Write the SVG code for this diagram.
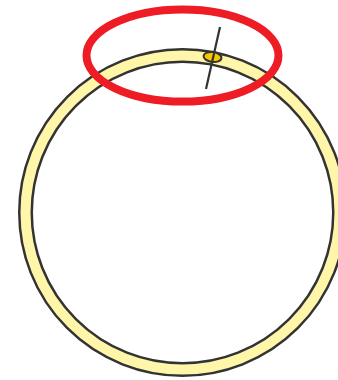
<svg xmlns="http://www.w3.org/2000/svg" width="338" height="380" viewBox="0 0 338 380">
<style>
.edge{fill:none;stroke:#333333;}
</style>
<rect width="338" height="380" fill="#ffffff"/>
<g id="ring">
<circle cx="182.5" cy="212.5" r="157" fill="none" stroke="#333333" stroke-width="15"/>
<circle cx="182.5" cy="212.5" r="157" fill="none" stroke="#FFF6AA" stroke-width="10"/>
</g>
<g id="bead">
<ellipse cx="212.5" cy="57" rx="9" ry="5" transform="rotate(8 212.5 57)" fill="#F7C600" stroke="#333333" stroke-width="2"/>
</g>
<g id="connectors">
<line class="edge" x1="220" y1="27" x2="206" y2="89" stroke-width="2.2"/>
</g>
<g id="highlight">
<ellipse cx="182.5" cy="55.5" rx="96" ry="46" fill="none" stroke="#EE1C25" stroke-width="8"/>
</g>
</svg>
